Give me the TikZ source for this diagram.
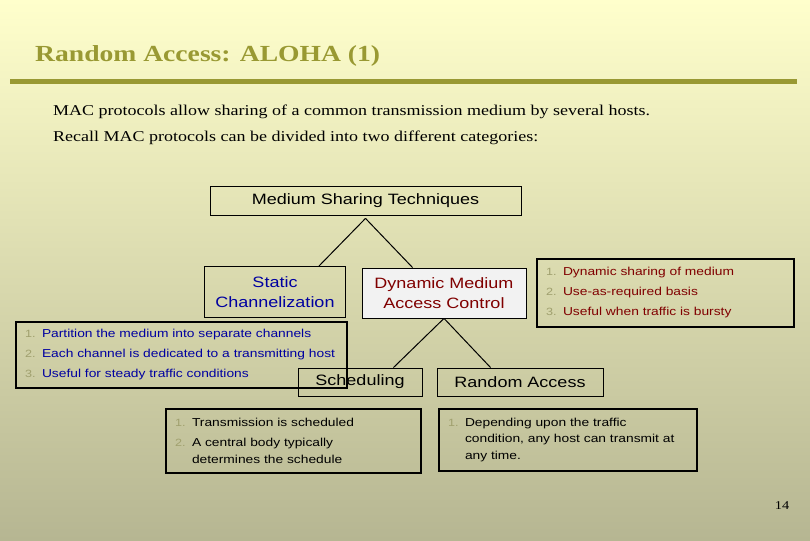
\documentclass[tikz,border=0pt]{standalone}
\usepackage{fontspec}
\setmainfont{Liberation Serif}[FakeStretch=1.2]
\setsansfont{Liberation Sans}[FakeStretch=1.2]
\usepackage{xcolor}
\usepackage{tikz}
\definecolor{bgtop}{RGB}{255, 255, 204}
\definecolor{bgbottom}{RGB}{182, 182, 146}
\definecolor{titleolive}{RGB}{153, 153, 51}
\definecolor{staticblue}{RGB}{0, 0, 160}
\definecolor{dynred}{RGB}{128, 0, 0}
\definecolor{numgray}{RGB}{160, 160, 110}
\definecolor{dmacfill}{RGB}{242, 242, 242}

% list numbers and hanging indent for wrapped lines
\newcommand{\itemno}[1]{\makebox[17pt][l]{\fontsize{10.5}{10.5}\selectfont\color{numgray}#1.}}
\newcommand{\itemgap}{\hspace*{17pt}}

\begin{document}
\begin{tikzpicture}[x=1pt, y=-1pt,
    every node/.style={font=\sffamily},
    catbox/.style={draw=black, line width=0.8pt, inner sep=0pt, align=center, font=\fontsize{15}{20}\selectfont\sffamily},
    notebox/.style={draw=black, line width=2.5pt, inner xsep=9pt, inner ysep=0pt, align=left, font=\fontsize{11.5}{16.5}\selectfont\sffamily},
    link/.style={line width=1pt}]
    % slide background and frame
    \useasboundingbox (0,0) rectangle (810,540);
    \fill[top color=bgtop, bottom color=bgbottom] (0,0) rectangle (810,540);

    % Title and rule
    \node[anchor=base west, inner sep=0pt, font=\fontsize{23}{27}\selectfont\rmfamily\bfseries, text=titleolive] (title) at (35,62) {Random Access: ALOHA (1)};
    \draw[titleolive, line width=5pt] (10,81.5) -- (797,81.5);

    \node[anchor=base west, inner sep=0pt, font=\fontsize{15}{18}\selectfont\rmfamily] (intro) at (53,116) {MAC protocols allow sharing of a common transmission medium by several hosts.};
    \node[anchor=base west, inner sep=0pt, font=\fontsize{15}{18}\selectfont\rmfamily] (recall) at (53,142) {Recall MAC protocols can be divided into two different categories:};

    % Category tree
    \node[catbox, minimum width=311pt, minimum height=29pt] (mst) at (365.5,200.5) {Medium Sharing Techniques};
    \node[catbox, minimum width=141pt, minimum height=51pt, text=staticblue] (static) at (275,292) {Static\\Channelization};
    \node[catbox, fill=dmacfill, minimum width=164pt, minimum height=50pt, text=dynred] (dmac) at (444,293) {Dynamic Medium\\Access Control};
    \node[catbox, minimum width=124pt, minimum height=28pt] (sched) at (360,382) {Scheduling};
    \node[catbox, minimum width=166pt, minimum height=28pt] (rand) at (520,382) {Random Access};

    \draw[link] ([yshift=-3pt]mst.south) -- ([xshift=-27pt]static.north east);
    \draw[link] ([yshift=-3pt]mst.south) -- ([xshift=51pt]dmac.north west);
    \draw[link] (dmac.south) -- ([xshift=-29pt]sched.north east);
    \draw[link] (dmac.south) -- ([xshift=54pt]rand.north west);

    % Note boxes
    \node[notebox, text=staticblue, minimum width=331pt, minimum height=66pt, text width=313pt] (staticnote) at (181.5,355) {\itemno{1}Partition the medium into separate channels\\[3.5pt]\itemno{2}Each channel is dedicated to a transmitting host\\[3.5pt]\itemno{3}Useful for steady traffic conditions};
    \node[notebox, text=dynred, minimum width=257pt, minimum height=68pt, text width=239pt] (dmacnote) at (665.5,293) {\itemno{1}Dynamic sharing of medium\\[3.5pt]\itemno{2}Use-as-required basis\\[3.5pt]\itemno{3}Useful when traffic is bursty};
    \node[notebox, minimum width=255pt, minimum height=64pt, text width=237pt] (schednote) at (293.5,441) {\itemno{1}Transmission is scheduled\\[3.5pt]\itemno{2}A central body typically\\\itemgap determines the schedule};
    \node[notebox, minimum width=258pt, minimum height=62pt, text width=240pt] (randnote) at (568,440) {\itemno{1}Depending upon the traffic\\\itemgap condition, any host can transmit at\\\itemgap any time.};

    \node[anchor=base, inner sep=0pt, font=\fontsize{12}{14}\selectfont\rmfamily] (pageno) at (782,509) {14};
\end{tikzpicture}
\end{document}
